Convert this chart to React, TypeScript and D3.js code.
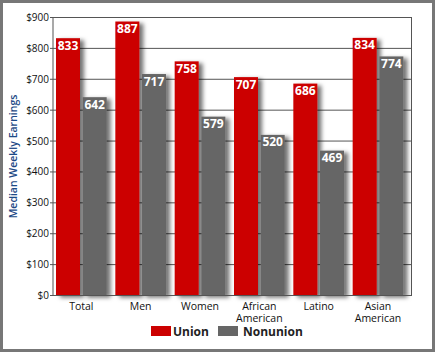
import React from 'react';
import * as d3 from 'd3';

const categories = ['Total', 'Men', 'Women', 'African American', 'Latino', 'Asian American'];
const unionValues = [833, 887, 758, 707, 686, 834];
const nonunionValues = [642, 717, 579, 520, 469, 774];
const yTicks = [0, 100, 200, 300, 400, 500, 600, 700, 800, 900];
const seriesNames = ['Union', 'Nonunion'];

const W = 435;
const H = 352;
const FONT = '"Open Sans", "DejaVu Sans", sans-serif';
const RED = '#cc0000';
const GRAY = '#666666';

const App = () => {
  // plot frame
  const left = 53;
  const right = 411.5;
  const top = 17.5;
  const bottom = 295.5;

  const x = d3.scaleBand().domain(categories).range([53.5, 409.5]);
  const y = d3.scaleLinear().domain([0, 900]).range([bottom, top]);
  const barW = 24;
  const unionOff = 2.5;
  const nonOff = 29.2;

  const series = [
    { name: seriesNames[0], values: unionValues, off: unionOff, color: RED },
    { name: seriesNames[1], values: nonunionValues, off: nonOff, color: GRAY },
  ];

  return (
    <svg width={W} height={H} style={{ position: 'absolute', left: 0, top: 0 }} fontFamily={FONT}>
      <defs>
        <filter id="shadow" x="-20%" y="-20%" width="160%" height="140%">
          <feDropShadow dx="4" dy="2" stdDeviation="2" floodColor="#000" floodOpacity="0.55" />
        </filter>
      </defs>
      <rect x={0} y={0} width={W} height={H} fill="#fff" />
      <rect x={1.5} y={1.5} width={W - 3} height={H - 3} fill="none" stroke="#777" strokeWidth={3} />

      {/* gridlines */}
      {yTicks.map(t => (
        <g key={t}>
          <line x1={left - 3} x2={right} y1={y(t)} y2={y(t)} stroke="#555" strokeWidth={1} />
          <text x={left - 4} y={y(t) + 3.5} fontSize={10} textAnchor="end" fill="#111">
            {`$${t}`}
          </text>
        </g>
      ))}

      {/* frame */}
      <rect x={left} y={top} width={right - left} height={bottom - top} fill="none" stroke="#555" strokeWidth={1} />

      {/* bars */}
      {series.map(s =>
        categories.map((c, i) => {
          const bx = (x(c) as number) + s.off;
          const by = y(s.values[i]);
          return (
            <g key={s.name + c}>
              <rect x={bx} y={by} width={barW} height={bottom - by} fill={s.color} filter="url(#shadow)" />
              <text x={bx + barW / 2} y={by + 11.5} fontSize={12} fontWeight="bold" textAnchor="middle" fill="#fff">
                {s.values[i]}
              </text>
            </g>
          );
        })
      )}
      <line x1={left} x2={right} y1={bottom} y2={bottom} stroke="#555" strokeWidth={1} />

      {/* x labels */}
      {categories.map(c => {
        const cx = (x(c) as number) + (unionOff + nonOff + barW) / 2;
        const words = c.split(' ');
        return (
          <text key={c} x={cx} y={310} fontSize={10.5} textAnchor="middle" fill="#111">
            {words.map((w, j) => (
              <tspan key={w} x={cx} dy={j === 0 ? 0 : 11.5}>
                {w}
              </tspan>
            ))}
          </text>
        );
      })}

      {/* y title */}
      <text
        transform={`translate(17,${(top + bottom) / 2}) rotate(-90)`}
        fontSize={10.5}
        fontWeight="600"
        textAnchor="middle"
        fill="#1d4a86"
      >
        Median Weekly Earnings
      </text>

      {/* legend */}
      <rect x={151} y={326} width={20} height={10} fill={RED} />
      <text x={173} y={336} fontSize={12} fontWeight="bold" fill="#222">
        {seriesNames[0]}
      </text>
      <rect x={218} y={326} width={20} height={10} fill={GRAY} />
      <text x={243} y={336} fontSize={12} fontWeight="bold" fill="#222">
        {seriesNames[1]}
      </text>
    </svg>
  );
};

export default App;
